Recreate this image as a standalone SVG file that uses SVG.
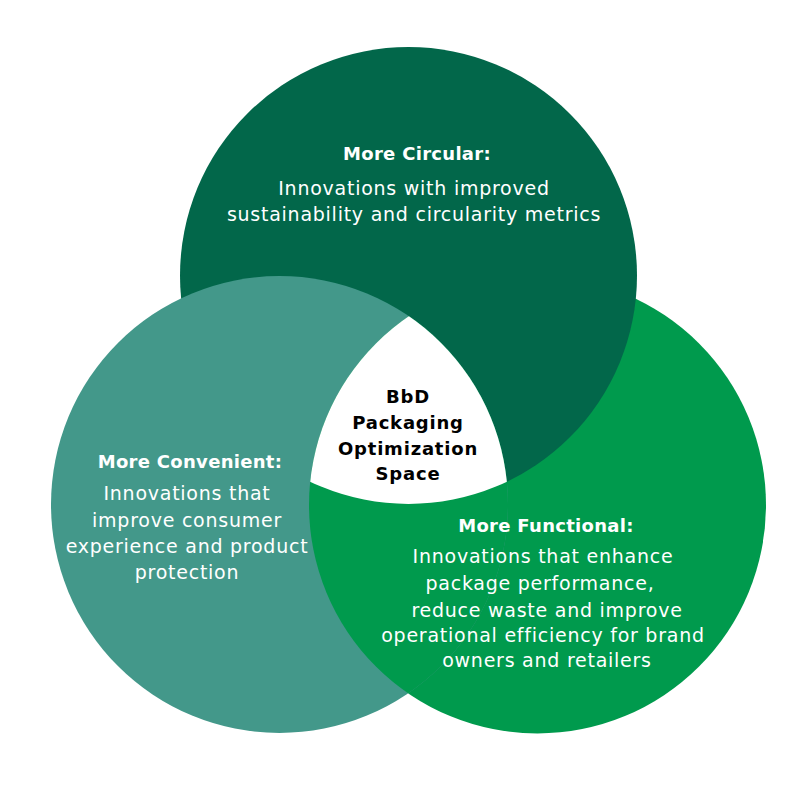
<svg xmlns="http://www.w3.org/2000/svg" width="801" height="801" viewBox="0 0 801 801">
<style>
text{font-family:"DejaVu Sans","Noto Sans",sans-serif;fill:#fff;text-anchor:middle;font-size:19px;letter-spacing:0.75px}
.h{font-weight:bold;font-size:18px;letter-spacing:0.3px}
.c{fill:#000;font-weight:bold;font-size:18px;letter-spacing:0.8px}
</style>
<defs>
<clipPath id="clipL"><circle cx="279.5" cy="504.5" r="228.5"/></clipPath>
<clipPath id="clipR"><circle cx="537.5" cy="505" r="228.5"/></clipPath>
</defs>
<rect width="801" height="801" fill="#fff"/>
<g id="circle-functional"><circle cx="537.5" cy="505" r="228.5" fill="#009A4D"/></g>
<g id="circle-circular"><circle cx="408.5" cy="275.5" r="228.5" fill="#02674A"/></g>
<g id="circle-convenient"><circle cx="279.5" cy="504.5" r="228.5" fill="#43988A"/></g>
<g id="functional-over-convenient" clip-path="url(#clipL)"><circle cx="537.5" cy="505" r="228.5" fill="#009A4D"/></g>
<g id="center-space" clip-path="url(#clipL)"><g clip-path="url(#clipR)"><circle cx="408.5" cy="275.5" r="228.5" fill="#fff"/></g></g>
<g id="label-circular">
<text class="h" x="417" y="160">More Circular:</text>
<text x="414" y="195">Innovations with improved</text>
<text x="414" y="221">sustainability and circularity metrics</text>
</g>
<g id="label-center">
<text class="c" x="408" y="403">BbD</text>
<text class="c" x="408" y="429">Packaging</text>
<text class="c" x="408" y="455">Optimization</text>
<text class="c" x="408" y="480">Space</text>
</g>
<g id="label-convenient">
<text class="h" x="190" y="468">More Convenient:</text>
<text x="187" y="500">Innovations that</text>
<text x="187" y="527">improve consumer</text>
<text x="187" y="553">experience and product</text>
<text x="187" y="579">protection</text>
</g>
<g id="label-functional">
<text class="h" x="546" y="532">More Functional:</text>
<text x="543" y="563">Innovations that enhance</text>
<text x="540" y="590">package performance,</text>
<text x="547" y="617">reduce waste and improve</text>
<text x="543" y="642">operational efficiency for brand</text>
<text x="547" y="667">owners and retailers</text>
</g>
</svg>
